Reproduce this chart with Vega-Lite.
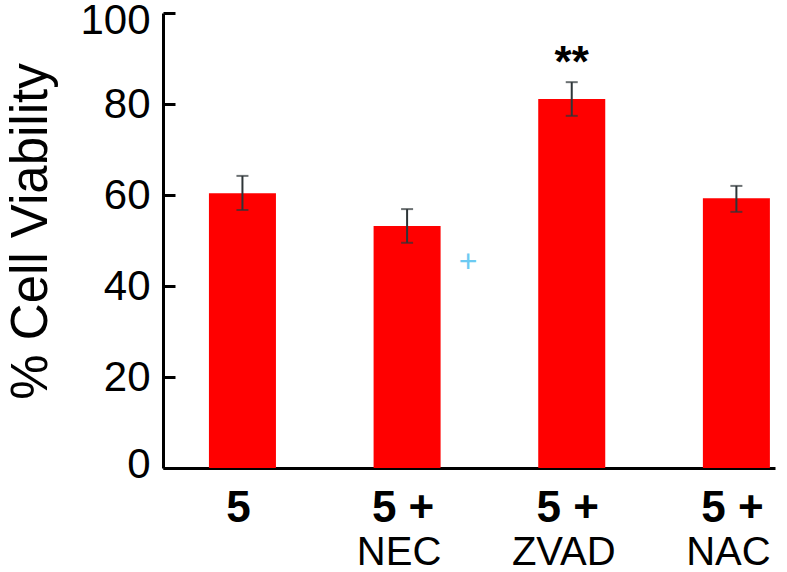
{
  "$schema": "https://vega.github.io/schema/vega-lite/v6.json",
  "width": 612,
  "height": 455,
  "autosize": {"type": "none"},
  "padding": {"left": 163, "top": 13, "right": 12, "bottom": 104},
  "background": "white",
  "config": {"view": {"stroke": null}, "font": "Liberation Sans"},
  "datasets": {
    "bars": [
      {"group": "5", "mean": 60.4, "lo": 56.7, "hi": 64.2},
      {"group": "5 + NEC", "mean": 53.2, "lo": 49.5, "hi": 56.9},
      {"group": "5 + ZVAD", "mean": 81.1, "lo": 77.4, "hi": 84.8},
      {"group": "5 + NAC", "mean": 59.3, "lo": 56.3, "hi": 62.0}
    ],
    "marks": [
      {"group": "5 + ZVAD", "value": 84.8, "text": "**"}
    ],
    "plus": [
      {"group": "5 + NEC", "value": 45.3, "text": "+"}
    ]
  },
  "layer": [
    {
      "data": {"name": "bars"},
      "mark": {"type": "bar", "color": "#ff0000"},
      "encoding": {
        "x": {
          "field": "group", "type": "nominal", "sort": null, "title": null,
          "scale": {"paddingInner": 0.593, "paddingOuter": 0.155, "align": 0.9},
          "axis": {
            "orient": "bottom",
            "labelAngle": 0, "ticks": false,
            "domainColor": "black", "domainWidth": 3,
            "labelExpr": "datum.label == '5' ? '5' : '5 +'",
            "labelFont": "Liberation Sans", "labelFontWeight": "bold", "labelFontSize": 44,
            "labelColor": "black", "labelBaseline": "top", "labelPadding": 18, "labelOffset": -4
          }
        },
        "y": {
          "field": "mean", "type": "quantitative",
          "scale": {"domain": [0, 100], "nice": false},
          "axis": {
            "title": "% Cell Viability", "titleFont": "Liberation Sans", "titleFontSize": 51,
            "titleFontWeight": "normal", "titleColor": "black", "titlePadding": 22,
            "titleY": 218,
            "values": [0, 20, 40, 60, 80, 100], "grid": false,
            "domainColor": "black", "domainWidth": 3,
            "tickColor": "black", "tickWidth": 3, "tickSize": -12,
            "labelFont": "Liberation Sans", "labelFontSize": 42, "labelColor": "black",
            "labelPadding": 25,
            "labelOffset": {"condition": [{"test": "datum.value == 100", "value": 7}, {"test": "datum.value == 0", "value": -4}], "value": 0}
          }
        }
      }
    },
    {
      "data": {"name": "bars"},
      "mark": {"type": "rule", "color": "#2e3538", "strokeWidth": 2},
      "encoding": {
        "x": {
          "field": "group", "type": "nominal", "sort": null, "title": null,
          "axis": {
            "orient": "bottom",
            "labelAngle": 0, "ticks": false, "domain": false,
            "labelExpr": "datum.label == '5' ? '' : replace(datum.label, '5 + ', '')",
            "labelFont": "Liberation Sans", "labelFontWeight": "normal", "labelFontSize": 40,
            "labelColor": "black", "labelBaseline": "top", "labelPadding": 64, "labelOffset": -8
          }
        },
        "y": {"field": "lo", "type": "quantitative"},
        "y2": {"field": "hi"}
      }
    },
    {
      "data": {"name": "bars"},
      "mark": {"type": "tick", "color": "#2e3538", "size": 12, "thickness": 2},
      "encoding": {
        "x": {"field": "group", "type": "nominal", "sort": null, "axis": null},
        "y": {"field": "lo", "type": "quantitative"}
      }
    },
    {
      "data": {"name": "bars"},
      "mark": {"type": "tick", "color": "#2e3538", "size": 12, "thickness": 2},
      "encoding": {
        "x": {"field": "group", "type": "nominal", "sort": null, "axis": null},
        "y": {"field": "hi", "type": "quantitative"}
      }
    },
    {
      "data": {"name": "marks"},
      "mark": {"type": "text", "font": "Liberation Sans", "fontWeight": "bold", "fontSize": 44, "color": "black", "baseline": "alphabetic", "dy": -5},
      "encoding": {
        "x": {"field": "group", "type": "nominal", "sort": null, "axis": null},
        "y": {"field": "value", "type": "quantitative"},
        "text": {"field": "text"}
      }
    },
    {
      "data": {"name": "plus"},
      "mark": {"type": "text", "font": "Liberation Sans", "fontSize": 32, "color": "#6ccaf2", "baseline": "middle", "dx": 61},
      "encoding": {
        "x": {"field": "group", "type": "nominal", "sort": null, "axis": null},
        "y": {"field": "value", "type": "quantitative"},
        "text": {"field": "text"}
      }
    }
  ],
  "resolve": {"axis": {"x": "independent"}}
}
